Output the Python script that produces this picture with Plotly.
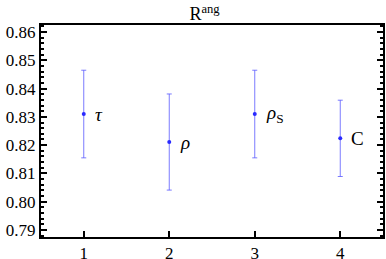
import plotly.graph_objects as go

categories = [1, 2, 3, 4]
labels = ["<i>τ</i>", "<i>ρ</i>", "<i>ρ</i><sub>S</sub>", "C"]
values = [0.831, 0.8211, 0.831, 0.8224]
errors = [0.0155, 0.017, 0.0155, 0.0135]
yticks = [0.79, 0.80, 0.81, 0.82, 0.83, 0.84, 0.85, 0.86]

FONT = "Liberation Serif"
fig = go.Figure()
fig.add_trace(go.Scatter(
    x=categories, y=values, mode="markers",
    marker=dict(color="#2a2aff", size=4),
    error_y=dict(type="data", array=errors, color="rgba(90,90,255,0.8)", thickness=1, width=2.5),
    showlegend=False, hoverinfo="skip",
))
for c, v, t in zip(categories, values, labels):
    fig.add_annotation(x=c, y=v, text=t, showarrow=False, xanchor="left", xshift=9,
                       font=dict(family=FONT, size=19, color="black"))

fig.update_layout(
    width=386, height=259,
    margin=dict(l=41, r=3, t=25, b=22, autoexpand=False),
    paper_bgcolor="white", plot_bgcolor="white",
    font=dict(family=FONT, size=17, color="black"),
    title=dict(text="R<sup>ang</sup>", x=0.53, xanchor="center", y=0.97, yanchor="top",
               font=dict(family=FONT, size=18, color="black")),
    xaxis=dict(range=[0.5, 4.5], tickmode="array", tickvals=categories, automargin=False,
               tickfont=dict(family=FONT, size=17, color="black"),
               showline=True, linecolor="black", linewidth=2, mirror=True,
               ticks="inside", ticklen=6, tickwidth=2, tickcolor="black",
               showgrid=False, zeroline=False),
    yaxis=dict(range=[0.7875, 0.8625], tickmode="array", tickvals=yticks, tickformat=".2f",
               automargin=False,
               tickfont=dict(family=FONT, size=17, color="black"),
               showline=True, linecolor="black", linewidth=2, mirror="ticks",
               ticks="inside", ticklen=6, tickwidth=2, tickcolor="black",
               minor=dict(ticks="inside", dtick=0.002, ticklen=3, tickwidth=1.5, tickcolor="black"),
               showgrid=False, zeroline=False),
)
fig.write_html("out.html", config={"displayModeBar": False},
               post_script="document.body.style.margin='0';document.body.style.padding='0';")
